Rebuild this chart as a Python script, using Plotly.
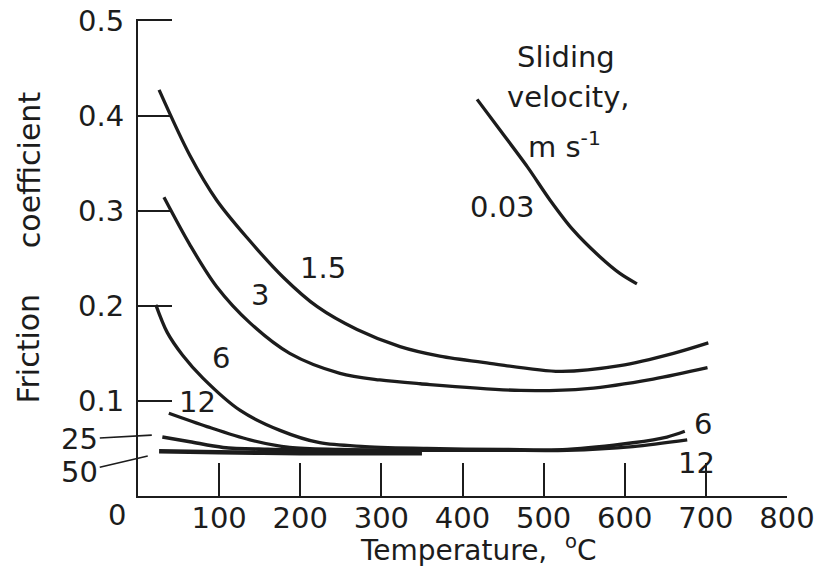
import plotly.graph_objects as go

# ---- data (temperature in °C, friction coefficient) ----
T_003 = [418, 446, 480, 508, 536, 570, 594, 615]
F_003 = [0.417, 0.385, 0.346, 0.311, 0.280, 0.251, 0.234, 0.223]

T_15 = [26, 64, 97, 134, 179, 221, 270, 323, 372, 430, 520, 594, 660, 703]
F_15 = [0.427, 0.358, 0.311, 0.272, 0.230, 0.199, 0.175, 0.157, 0.147, 0.140, 0.131, 0.137, 0.150, 0.161]

T_3 = [32, 64, 97, 138, 187, 249, 298, 348, 471, 554, 635, 702]
F_3 = [0.314, 0.264, 0.220, 0.182, 0.150, 0.129, 0.122, 0.118, 0.111, 0.113, 0.123, 0.135]

T_6 = [22, 36, 55, 80, 126, 175, 224, 280, 356, 450, 529, 610, 652, 674]
F_6 = [0.201, 0.172, 0.148, 0.124, 0.090, 0.069, 0.056, 0.052, 0.050, 0.049, 0.049, 0.056, 0.062, 0.068]

T_12 = [38, 85, 138, 187, 250, 356, 450, 529, 610, 677]
F_12 = [0.087, 0.073, 0.059, 0.051, 0.049, 0.048, 0.048, 0.048, 0.052, 0.059]

T_25 = [30, 64, 105, 160, 250, 350]
F_25 = [0.062, 0.057, 0.051, 0.049, 0.048, 0.048]

T_50 = [26, 100, 200, 300, 350]
F_50 = [0.047, 0.046, 0.045, 0.045, 0.045]

x_tickvals = [100, 200, 300, 400, 500, 600, 700, 800]
x_ticktext = ["100", "200", "300", "400", "500", "600", "700", "800"]
y_tickvals = [0.1, 0.2, 0.3, 0.4, 0.5]
y_ticktext = ["0.1", "0.2", "0.3", "0.4", "0.5"]

INK = "#1c1c1c"
FONT = "DejaVu Sans"
FS = 29

fig = go.Figure()

def add_curve(x, y, width=3.3):
    fig.add_trace(go.Scatter(
        x=x, y=y, mode="lines",
        line=dict(color=INK, width=width, shape="spline", smoothing=0.9),
        showlegend=False, hoverinfo="skip"))

add_curve(T_003, F_003)
add_curve(T_15, F_15)
add_curve(T_3, F_3)
add_curve(T_6, F_6)
add_curve(T_12, F_12)
add_curve(T_25, F_25, 3.6)
add_curve(T_50, F_50, 4.5)

# curve labels (text, T, f)
labels = [
    ("1.5", 228, 0.240),
    ("3", 150, 0.211),
    ("6", 102, 0.145),
    ("12", 73, 0.099),
    ("0.03", 449, 0.304),
    ("6", 697, 0.076),
    ("12", 688, 0.035),
]
for txt, x, y in labels:
    fig.add_annotation(x=x, y=y, text=txt, showarrow=False,
                       xanchor="center", yanchor="middle",
                       font=dict(family=FONT, size=FS, color=INK))

# velocity legend title
for txt, x, y in [("Sliding", 527, 0.462), ("velocity,", 531, 0.419),
                  ("m s<sup>-1</sup>", 526, 0.369)]:
    fig.add_annotation(x=x, y=y, text=txt, showarrow=False,
                       xanchor="center", yanchor="middle",
                       font=dict(family=FONT, size=FS, color=INK))

# leader labels outside the axis
fig.add_annotation(x=17, y=0.064, text="25", showarrow=True, arrowhead=0,
                   arrowwidth=1.6, arrowcolor=INK, ax=-72, ay=4,
                   font=dict(family=FONT, size=FS, color=INK))
fig.add_annotation(x=12, y=0.042, text="50", showarrow=True, arrowhead=0,
                   arrowwidth=1.6, arrowcolor=INK, ax=-68, ay=16,
                   font=dict(family=FONT, size=FS, color=INK))

# origin label
fig.add_annotation(x=0, y=0, text="0", showarrow=False, xshift=-21, yshift=-19,
                   xanchor="center", yanchor="middle",
                   font=dict(family=FONT, size=FS, color=INK))

# axis titles
fig.add_annotation(xref="paper", yref="paper", x=0.524, y=-0.111,
                   xanchor="center", yanchor="middle",
                   text="Temperature,  <sup>o</sup>C", showarrow=False,
                   font=dict(family=FONT, size=28, color=INK))
fig.add_annotation(xref="paper", yref="paper", x=-0.168, y=0.309,
                   xanchor="center", yanchor="middle",
                   text="Friction", textangle=-90, showarrow=False,
                   font=dict(family=FONT, size=30, color=INK))
fig.add_annotation(xref="paper", yref="paper", x=-0.168, y=0.685,
                   xanchor="center", yanchor="middle",
                   text="coefficient", textangle=-90, showarrow=False,
                   font=dict(family=FONT, size=30, color=INK))

fig.update_xaxes(range=[0, 800], tickvals=x_tickvals, ticktext=x_ticktext,
                 ticks="inside", ticklen=33, tickwidth=1.8, tickcolor=INK,
                 showline=True, linecolor=INK, linewidth=2.2,
                 showgrid=False, zeroline=False, automargin=False,
                 ticklabeloverflow="allow", ticklabelstandoff=-5,
                 tickfont=dict(family=FONT, size=FS, color=INK))
fig.update_yaxes(range=[0, 0.5015], tickvals=y_tickvals, ticktext=y_ticktext,
                 ticks="inside", ticklen=34, tickwidth=1.8, tickcolor=INK,
                 showline=True, linecolor=INK, linewidth=2.2,
                 showgrid=False, zeroline=False, ticklabelstandoff=6,
                 automargin=False, ticklabeloverflow="allow",
                 tickfont=dict(family=FONT, size=FS, color=INK))

# page body has an 8px margin, so the figure is sized and margined to compensate
fig.update_layout(width=830, height=563,
                  margin=dict(l=130, r=51, t=11, b=75),
                  plot_bgcolor="white", paper_bgcolor="white")

fig.write_html("out.html")
